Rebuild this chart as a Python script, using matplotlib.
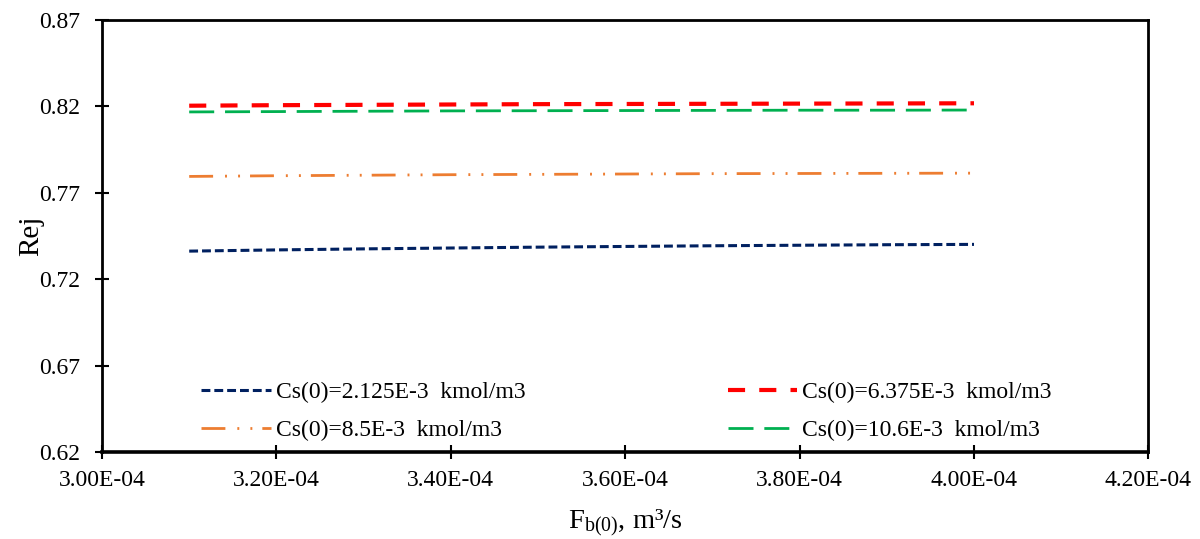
import matplotlib
matplotlib.use("Agg")
import matplotlib.pyplot as plt
from matplotlib.ticker import FuncFormatter, FixedLocator

plt.rcParams["font.family"] = ["Liberation Serif", "DejaVu Serif"]
plt.rcParams["mathtext.fontset"] = "custom"
plt.rcParams["mathtext.rm"] = "Liberation Serif"
plt.rcParams["mathtext.it"] = "Liberation Serif:italic"

# feed flow rate, m3/s
flow = [3.1e-4, 3.2e-4, 3.3e-4, 3.4e-4, 3.5e-4, 3.6e-4, 3.7e-4, 3.8e-4, 3.9e-4, 4.0e-4]

# rejection for each inlet salt concentration
rej_2125 = [0.7363, 0.7370, 0.7376, 0.7381, 0.7386, 0.7390, 0.7394, 0.7397, 0.7400, 0.7402]
rej_6375 = [0.8204, 0.8207, 0.8209, 0.8211, 0.8213, 0.8214, 0.8215, 0.8216, 0.8217, 0.8218]
rej_85 = [0.7795, 0.7799, 0.7802, 0.7805, 0.7807, 0.7809, 0.7811, 0.7812, 0.7813, 0.7814]
rej_106 = [0.8168, 0.8170, 0.8172, 0.8174, 0.8175, 0.8176, 0.8177, 0.8178, 0.8178, 0.8179]

labels = ["Cs(0)=2.125E-3  kmol/m3", "Cs(0)=6.375E-3  kmol/m3",
          "Cs(0)=8.5E-3  kmol/m3", "Cs(0)=10.6E-3  kmol/m3"]

x_ticks = [3.0e-4, 3.2e-4, 3.4e-4, 3.6e-4, 3.8e-4, 4.0e-4, 4.2e-4]
y_ticks = [0.62, 0.67, 0.72, 0.77, 0.82, 0.87]

fig = plt.figure(figsize=(12, 5.39), dpi=100)
ax = fig.add_axes([0.085, 0.161, 0.872, 0.802])

l1, = ax.plot(flow, rej_2125, color="#002060", lw=2.2, dashes=(2.9, 1.3), label=labels[0])
l2, = ax.plot(flow, rej_6375, color="#FF0000", lw=3.0, dashes=(4.1, 3.4), label=labels[1])
l3, = ax.plot(flow, rej_85, color="#ED7D31", lw=2.0, dashes=(8.6, 4.3, 0.7, 4.0, 0.7, 3.6), label=labels[2])
l4, = ax.plot(flow, rej_106, color="#00B050", lw=2.0, dashes=(9, 3.9), label=labels[3])

ax.set_xlim(3.0e-4, 4.2e-4)
ax.set_ylim(0.62, 0.87)
ax.xaxis.set_major_locator(FixedLocator(x_ticks))
ax.yaxis.set_major_locator(FixedLocator(y_ticks))
ax.xaxis.set_major_formatter(FuncFormatter(lambda v, p: f"{v:.2E}"))
ax.yaxis.set_major_formatter(FuncFormatter(lambda v, p: f"{v:.2f}"))
ax.tick_params(direction="inout", length=10, width=1.5, labelsize=17)
ax.tick_params(axis="x", pad=8)
ax.tick_params(axis="y", pad=11)

for s in ["top", "left", "right"]:
    ax.spines[s].set_linewidth(2.0)
ax.spines["bottom"].set_linewidth(2.6)

ax.set_xlabel(r"F$_{\mathregular{b(0)}}$, m³/s", fontsize=20.5)
ax.xaxis.set_label_coords(0.5, -0.127)
ax.set_ylabel("Rej", fontsize=21)
ax.yaxis.set_label_coords(-0.055, 0.5)

# row-wise legend order: navy, red / orange, green
ax.legend([l1, l3, l2, l4], [labels[0], labels[2], labels[1], labels[3]],
          loc="upper left", bbox_to_anchor=(0.086, 0.186), ncol=2, frameon=False,
          fontsize=17, handlelength=2.96, handletextpad=0.2, columnspacing=8.55,
          labelspacing=0.7, borderaxespad=0)

plt.savefig("out.png", dpi=100)
